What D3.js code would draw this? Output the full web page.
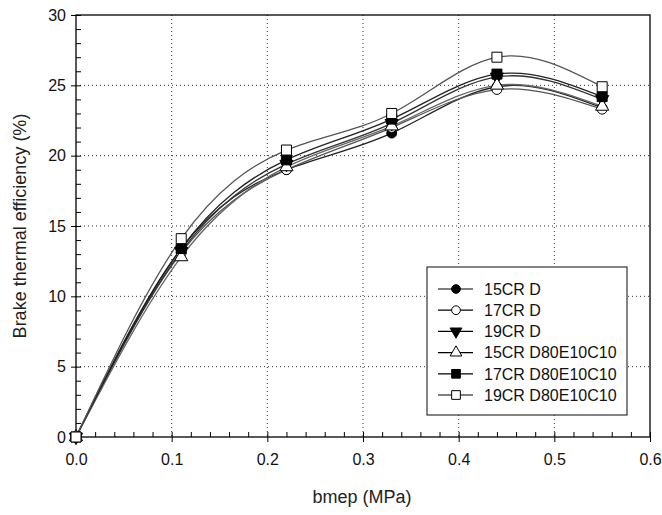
<!DOCTYPE html>
<html>
<head>
<meta charset="utf-8">
<script src="https://cdn.jsdelivr.net/npm/d3@7"></script>
<style>
  body { margin: 0; background: #fff; }
  text { font-family: "Liberation Sans", Arial, sans-serif; }
</style>
</head>
<body>
<script>

// data //
const bmep = [0, 0.11, 0.22, 0.33, 0.44, 0.55];
const cr15D = [0, 13.4, 19.0, 21.6, 24.9, 23.4];
const cr17D = [0, 13.1, 19.0, 22.0, 24.7, 23.3];
const cr19D = [0, 13.2, 19.4, 22.3, 25.6, 24.0];
const cr15DEC = [0, 12.8, 19.2, 22.1, 25.0, 23.5];
const cr17DEC = [0, 13.4, 19.7, 22.6, 25.8, 24.2];
const cr19DEC = [0, 14.1, 20.4, 23.0, 27.0, 24.9];
const seriesNames = ["15CR D", "17CR D", "19CR D", "15CR D80E10C10", "17CR D80E10C10", "19CR D80E10C10"];
const xTicks = [0, 0.1, 0.2, 0.3, 0.4, 0.5, 0.6];
const yTicks = [0, 5, 10, 15, 20, 25, 30];

const series = [
  { name: seriesNames[0], values: cr15D, marker: "circle", fill: "#000", stroke: "#222" },
  { name: seriesNames[1], values: cr17D, marker: "circle", fill: "#fff", stroke: "#555" },
  { name: seriesNames[2], values: cr19D, marker: "triangleDown", fill: "#000", stroke: "#333" },
  { name: seriesNames[3], values: cr15DEC, marker: "triangle", fill: "#fff", stroke: "#666" },
  { name: seriesNames[4], values: cr17DEC, marker: "square", fill: "#000", stroke: "#222" },
  { name: seriesNames[5], values: cr19DEC, marker: "square", fill: "#fff", stroke: "#555" }
];

// set margins //
const margin = { top: 15, right: 12, bottom: 78, left: 76 };
const width = 662 - margin.left - margin.right;
const height = 515 - margin.top - margin.bottom;

let svg = d3.select('body')
  .append('svg')
  .attr('width', 662)
  .attr('height', 515);

let g = svg.append('g')
  .attr('transform', 'translate(' + margin.left + ',' + margin.top + ')');

let x = d3.scaleLinear().domain([0, 0.6]).range([0, width]);
let y = d3.scaleLinear().domain([0, 30]).range([height, 0]);

// grid //
g.append('g').selectAll('line')
  .data(xTicks.slice(1, -1))
  .join('line')
  .attr('x1', d => x(d)).attr('x2', d => x(d))
  .attr('y1', 0).attr('y2', height)
  .attr('stroke', '#333').attr('stroke-width', 1)
  .attr('stroke-dasharray', '1,3');

g.append('g').selectAll('line')
  .data(yTicks.slice(1, -1))
  .join('line')
  .attr('y1', d => y(d)).attr('y2', d => y(d))
  .attr('x1', 0).attr('x2', width)
  .attr('stroke', '#333').attr('stroke-width', 1)
  .attr('stroke-dasharray', '1,3');

// minor ticks (inward) //
g.append('g')
  .call(d3.axisLeft(y).tickValues(d3.range(0, 30.01, 1)).tickSize(-5).tickFormat(''))
  .call(a => a.select('.domain').remove());
g.append('g')
  .attr('transform', 'translate(0,' + height + ')')
  .call(d3.axisBottom(x).tickValues(d3.range(0, 0.601, 0.02)).tickSize(-5).tickFormat(''))
  .call(a => a.select('.domain').remove());

// major axes //
let yAxis = g.append('g')
  .call(d3.axisLeft(y).tickValues(yTicks).tickSize(5).tickSizeOuter(0).tickPadding(5).tickFormat(d3.format('d')));
let xAxis = g.append('g')
  .attr('transform', 'translate(0,' + height + ')')
  .call(d3.axisBottom(x).tickValues(xTicks).tickSize(5).tickSizeOuter(0).tickPadding(12).tickFormat(d3.format('.1f')));

[xAxis, yAxis].forEach(a => {
  a.selectAll('text').attr('font-size', 16).attr('fill', '#111')
    .attr('font-family', '"Liberation Sans", Arial, sans-serif');
  a.select('.domain').remove();
});

// frame //
g.append('rect')
  .attr('width', width).attr('height', height)
  .attr('fill', 'none').attr('stroke', '#000').attr('stroke-width', 1.3);

// lines //
let line = d3.line()
  .x((d, i) => x(bmep[i]))
  .y(d => y(d))
  .curve(d3.curveNatural);

g.append('g').selectAll('path')
  .data(series)
  .join('path')
  .attr('fill', 'none')
  .attr('stroke', d => d.stroke)
  .attr('stroke-width', 1.3)
  .attr('d', d => line(d.values));

// markers //
const sym = {
  circle: d3.symbol().type(d3.symbolCircle).size(75),
  square: d3.symbol().type(d3.symbolSquare).size(100),
  triangle: d3.symbol().type(d3.symbolTriangle).size(75)
};
const legendSym = {
  circle: d3.symbol().type(d3.symbolCircle).size(60),
  square: d3.symbol().type(d3.symbolSquare).size(75),
  triangle: d3.symbol().type(d3.symbolTriangle).size(60)
};
function markerPath(m, set) {
  return m === 'triangleDown' ? set.triangle() : set[m]();
}
function markerTransform(m, px, py) {
  return 'translate(' + px + ',' + py + ')' + (m === 'triangleDown' ? ' rotate(180)' : '');
}

series.forEach(s => {
  g.append('g').selectAll('path')
    .data(s.values)
    .join('path')
    .attr('d', markerPath(s.marker, sym))
    .attr('transform', (d, i) => markerTransform(s.marker, x(bmep[i]), y(d)))
    .attr('fill', s.fill)
    .attr('stroke', '#000')
    .attr('stroke-width', 1);
});

// legend //
let legend = svg.append('g').attr('transform', 'translate(427,267)');
legend.append('rect')
  .attr('width', 200).attr('height', 148)
  .attr('fill', '#fff').attr('stroke', '#333').attr('stroke-width', 1.2);

let items = legend.selectAll('g.item')
  .data(series)
  .join('g')
  .attr('class', 'item')
  .attr('transform', (d, i) => 'translate(0,' + (22 + i * 21.2) + ')');
items.append('line')
  .attr('x1', 11).attr('x2', 46)
  .attr('stroke', '#000').attr('stroke-width', 1.2);
items.append('path')
  .attr('d', d => markerPath(d.marker, legendSym))
  .attr('transform', d => markerTransform(d.marker, 29, 0))
  .attr('fill', d => d.fill)
  .attr('stroke', '#000');
items.append('text')
  .attr('x', 57).attr('dy', '0.36em')
  .attr('font-size', 16).attr('fill', '#111')
  .text(d => d.name);

// axis titles //
svg.append('text')
  .attr('x', 362).attr('y', 503)
  .attr('text-anchor', 'middle')
  .attr('font-size', 18).attr('fill', '#222')
  .text('bmep (MPa)');

svg.append('text')
  .attr('transform', 'translate(26,226) rotate(-90)')
  .attr('text-anchor', 'middle')
  .attr('font-size', 18).attr('fill', '#222')
  .text('Brake thermal efficiency (%)');

</script>
</body>
</html>
